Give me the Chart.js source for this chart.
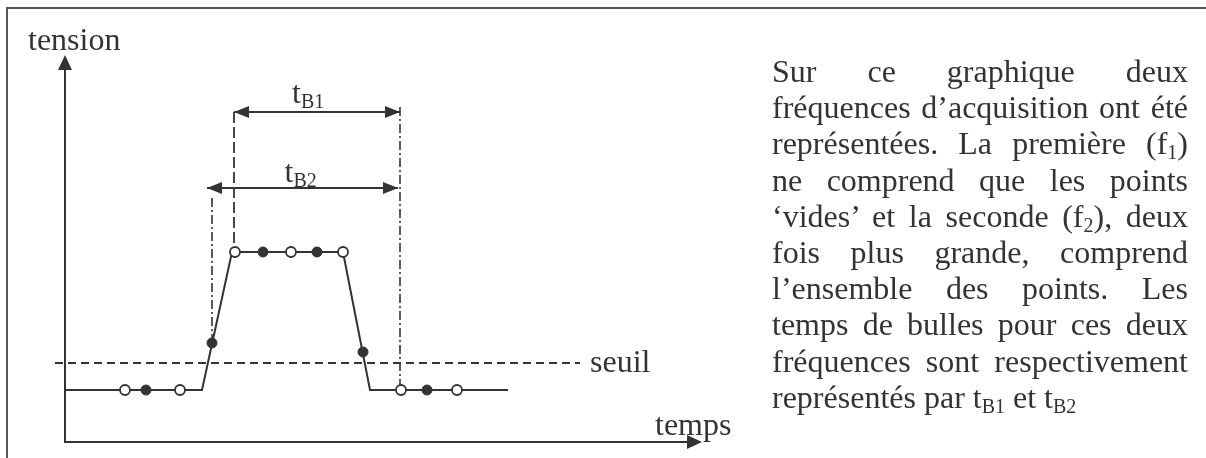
<!DOCTYPE html>
<html>
<head>
<meta charset="utf-8">
<script src="https://cdn.jsdelivr.net/npm/chart.js@4.4.1/dist/chart.umd.min.js"></script>
<style>
  html, body { margin: 0; padding: 0; background: #fff; overflow: hidden; }
  #frame { position: absolute; left: 6px; top: 7px; width: 1300px; height: 600px; border-left: 2px solid #555; border-top: 2px solid #555; }
  #plot { position: absolute; left: 0; top: 0; }
  #note { position: absolute; left: 772px; top: 53px; width: 416px; color: #333;
          font-family: 'Liberation Serif', 'Times New Roman', serif; font-size: 32px; }
  #note div { height: 36.2px; line-height: 36.2px; white-space: nowrap; text-align: justify; text-align-last: justify; }
  #note div.last { text-align-last: left; }
  #note sub { font-size: 20px; vertical-align: -5px; line-height: 0; }
</style>
</head>
<body>
<div id="frame"></div>
<canvas id="plot" width="1206" height="458"></canvas>
<div id="note">
  <div>Sur ce graphique deux</div>
  <div>fréquences d’acquisition ont été</div>
  <div>représentées. La première (f<sub>1</sub>)</div>
  <div>ne comprend que les points</div>
  <div>‘vides’ et la seconde (f<sub>2</sub>), deux</div>
  <div>fois plus grande, comprend</div>
  <div>l’ensemble des points. Les</div>
  <div>temps de bulles pour ces deux</div>
  <div>fréquences sont respectivement</div>
  <div class="last">représentés par t<sub>B1</sub> et t<sub>B2</sub></div>
</div>
<script>
// signal (temps / tension)
const signalT = [0, 13.7, 16.7, 27.8, 30.5, 44.3];
const signalV = [5.2, 5.2, 19.0, 19.0, 5.2, 5.2];

// f1 : points 'vides'
const f1T = [6.0, 11.5, 17.0, 22.6, 27.8, 33.6, 39.2];
const f1V = [5.2, 5.2, 19.0, 19.0, 19.0, 5.2, 5.2];

// f2 : points pleins en plus
const f2T = [8.1, 14.7, 19.8, 25.2, 29.8, 36.2];
const f2V = [5.2, 9.9, 19.0, 19.0, 9.0, 5.2];

// seuil
const seuilT = [-1.0, 51.5];
const seuilV = 7.9;

// temps de bulles
const tB1T = [16.9, 33.5];
const tB1V = 33.0;
const tB2T = [14.2, 33.3];
const tB2V = 25.4;

// repères verticaux [t, haut, bas]
const markDashed = [16.9, 33.0, 19.0];
const markDotB1 = [33.5, 33.5, 5.2];
const markDotB2 = [14.7, 24.4, 9.9];

const xMax = 63.7;
const yMax = 38.7;

const ink = '#333';
const font = "'Liberation Serif', 'Times New Roman', serif";

function pts(ts, vs) {
  return ts.map((t, i) => ({ x: t, y: Array.isArray(vs) ? vs[i] : vs }));
}

function vline(m) {
  return [{ x: m[0], y: m[1] }, { x: m[0], y: m[2] }];
}

function arrowHead(ctx, tx, ty, dx, dy, len, half) {
  const n = Math.hypot(dx, dy);
  dx /= n; dy /= n;
  const bx = tx - dx * len, by = ty - dy * len;
  ctx.beginPath();
  ctx.moveTo(tx, ty);
  ctx.lineTo(bx - dy * half, by + dx * half);
  ctx.lineTo(bx + dy * half, by - dx * half);
  ctx.closePath();
  ctx.fill();
}

function subLabel(ctx, main, sub, x, y) {
  ctx.font = '32px ' + font;
  ctx.fillText(main, x, y);
  const w = ctx.measureText(main).width;
  ctx.font = '20px ' + font;
  ctx.fillText(sub, x + w, y + 5);
}

const decor = {
  id: 'decor',
  beforeDatasetsDraw(chart) {
    const ctx = chart.ctx;
    const xs = chart.scales.x, ys = chart.scales.y;
    const x0 = xs.getPixelForValue(0), y0 = ys.getPixelForValue(0);
    const xe = xs.getPixelForValue(xMax), ye = ys.getPixelForValue(yMax);
    ctx.save();
    ctx.strokeStyle = ink;
    ctx.fillStyle = ink;
    ctx.lineWidth = 2;
    ctx.beginPath();
    ctx.moveTo(x0, ye + 10);
    ctx.lineTo(x0, y0);
    ctx.lineTo(xe - 10, y0);
    ctx.stroke();
    arrowHead(ctx, x0, ye, 0, -1, 15, 7);
    arrowHead(ctx, xe, y0, 1, 0, 15, 7);
    ctx.restore();
  },
  afterDatasetsDraw(chart) {
    const ctx = chart.ctx;
    const xs = chart.scales.x, ys = chart.scales.y;
    const x0 = xs.getPixelForValue(0), y0 = ys.getPixelForValue(0);
    const xe = xs.getPixelForValue(xMax), ye = ys.getPixelForValue(yMax);
    ctx.save();
    ctx.fillStyle = ink;
    // flèches des temps de bulles
    [[tB1T, tB1V], [tB2T, tB2V]].forEach(([ts, v]) => {
      const y = ys.getPixelForValue(v);
      arrowHead(ctx, xs.getPixelForValue(ts[0]), y, -1, 0, 15, 6);
      arrowHead(ctx, xs.getPixelForValue(ts[1]), y, 1, 0, 15, 6);
    });
    ctx.textBaseline = 'alphabetic';
    ctx.textAlign = 'left';
    ctx.font = '32px ' + font;
    ctx.fillText('tension', x0 - 37, ye - 5);
    ctx.fillText('temps', xe - 47, y0 - 7);
    ctx.fillText('seuil', xs.getPixelForValue(seuilT[1]) + 10, ys.getPixelForValue(seuilV) + 9);
    const m1 = (xs.getPixelForValue(tB1T[0]) + xs.getPixelForValue(tB1T[1])) / 2;
    const m2 = (xs.getPixelForValue(tB2T[0]) + xs.getPixelForValue(tB2T[1])) / 2;
    subLabel(ctx, 't', 'B1', m1 - 25, ys.getPixelForValue(tB1V) - 9);
    subLabel(ctx, 't', 'B2', m2 - 18, ys.getPixelForValue(tB2V) - 6);
    ctx.restore();
  }
};

const lineDs = (data, width, dash) => ({
  type: 'scatter',
  data: data,
  showLine: true,
  borderColor: ink,
  borderWidth: width,
  borderDash: dash,
  pointRadius: 0,
  clip: false
});

new Chart(document.getElementById('plot'), {
  type: 'scatter',
  data: {
    datasets: [
      {
        label: 'f2',
        data: pts(f2T, f2V),
        pointRadius: 5,
        pointBackgroundColor: ink,
        pointBorderColor: ink,
        pointBorderWidth: 1,
        order: 0
      },
      {
        label: 'f1',
        data: pts(f1T, f1V),
        pointRadius: 5,
        pointBackgroundColor: '#fff',
        pointBorderColor: ink,
        pointBorderWidth: 1.8,
        order: 1
      },
      Object.assign(lineDs(pts(signalT, signalV), 2, []), { label: 'signal', order: 2 }),
      Object.assign(lineDs(pts(seuilT, seuilV), 1.8, [8, 5]), { label: 'seuil', order: 3 }),
      Object.assign(lineDs(vline(markDashed), 1.8, [11, 4]), { order: 4 }),
      Object.assign(lineDs(vline(markDotB1), 1.6, [9, 3, 2, 3]), { order: 5 }),
      Object.assign(lineDs(vline(markDotB2), 1.6, [9, 3, 2, 3]), { order: 6 }),
      Object.assign(lineDs(pts(tB1T, tB1V), 2, []), { order: 7 }),
      Object.assign(lineDs(pts(tB2T, tB2V), 2, []), { order: 8 })
    ]
  },
  options: {
    responsive: false,
    animation: false,
    devicePixelRatio: 1,
    layout: { padding: { left: 65, right: 504, top: 55, bottom: 16 } },
    scales: {
      x: { type: 'linear', display: false, min: 0, max: xMax },
      y: { type: 'linear', display: false, min: 0, max: yMax }
    },
    plugins: {
      legend: { display: false },
      tooltip: { enabled: false }
    }
  },
  plugins: [decor]
});
</script>
</body>
</html>
